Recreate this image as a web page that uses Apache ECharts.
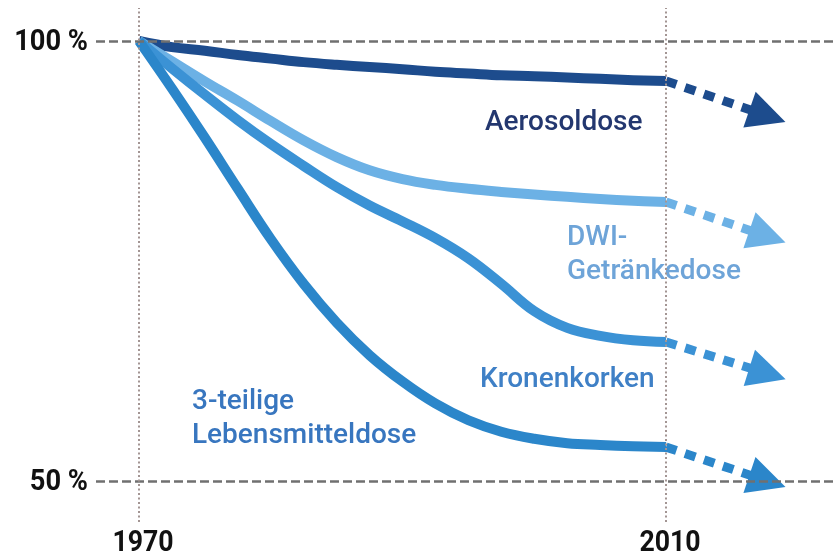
<!DOCTYPE html>
<html><head><meta charset="utf-8">
<script src="https://cdn.jsdelivr.net/npm/echarts@6/dist/echarts.min.js"></script>
<style>html,body{margin:0;padding:0;background:#fff}#c{width:836px;height:558px}</style>
</head><body><div id="c"></div>
<script>
// ---- data ----
const seriesNames = ['Aerosoldose', 'DWI-Getränkedose', 'Kronenkorken', '3-teilige Lebensmitteldose'];
const years = [1970, 1972.5, 1975, 1977.5, 1980, 1982.5, 1985, 1987.5, 1990, 1992.5, 1995, 1997.5, 2000, 2002.5, 2005, 2007.5, 2010];
const aeroValues = [100, 99.3, 98.9, 98.4, 98.0, 97.6, 97.3, 97.05, 96.8, 96.5, 96.3, 96.1, 96.0, 95.85, 95.7, 95.55, 95.45];
const dwiValues  = [100, 97.7, 95.4, 93.2, 90.9, 88.7, 86.8, 85.3, 84.3, 83.65, 83.2, 82.85, 82.55, 82.3, 82.05, 81.85, 81.7];
const kronValues = [100, 96.9, 93.9, 91.0, 88.3, 85.8, 83.4, 81.3, 79.5, 77.6, 75.3, 72.4, 69.3, 67.4, 66.5, 66.0, 65.8];
const dreiValues = [100, 94.6, 89.0, 83.2, 77.5, 72.4, 68.0, 64.3, 61.3, 58.8, 56.9, 55.6, 54.8, 54.3, 54.1, 53.95, 53.85];
const projYears = [2010, 2017.7];
const aeroProj = [95.45, 91.5];
const dwiProj = [81.7, 77.8];
const kronProj = [65.8, 62.2];
const dreiProj = [53.85, 50.0];
const yTickValues = [100, 50];
const yTickLabels = ['100 %', '50 %'];
const xTickValues = [1970, 2010];
const xTickLabels = ['1970', '2010'];

// ---- styles ----
const lineColors = ['#1d4c8d', '#6cb1e5', '#3b92d5', '#2b86ca'];
const textColors = ['#23376f', '#6ea4d8', '#3f80c6', '#3876bf'];

const pairs = (xs, ys) => xs.map((x, i) => [x, ys[i]]);
const chart = echarts.init(document.getElementById('c'), null, {renderer: 'canvas'});

const solid = [aeroValues, dwiValues, kronValues, dreiValues];
const proj = [aeroProj, dwiProj, kronProj, dreiProj];

const series = [{
  type: 'line', data: [], z: 1, silent: true,
  markLine: {
    silent: true, symbol: ['none', 'none'], label: {show: false},
    data: [
      ...yTickValues.map(v => ({yAxis: v, lineStyle: {color: '#707070', width: 2.6, type: [9, 4]}})),
      ...xTickValues.map(v => ({xAxis: v, lineStyle: {color: '#a39593', width: 2, type: [2, 2.5]}}))
    ],
    animation: false
  }
}];
solid.forEach((vals, i) => {
  series.push({
    name: seriesNames[i], type: 'line', z: 3, data: pairs(years, vals),
    smooth: 0.4, showSymbol: false, symbol: 'none',
    lineStyle: {color: lineColors[i], width: 10, cap: 'butt', join: 'round'}
  });
});
proj.forEach((p, i) => {
  series.push({
    type: 'lines', coordinateSystem: 'cartesian2d', z: 2,
    symbol: ['none', 'triangle'], symbolSize: [31, 38],
    lineStyle: {color: lineColors[i], width: 9, type: [11, 9], cap: 'butt', opacity: 1},
    data: [{coords: pairs(projYears, p)}]
  });
});

chart.setOption({
  animation: false,
  backgroundColor: '#ffffff',
  grid: {left: 96, right: 0, top: 8, bottom: 36},
  xAxis: {type: 'value', min: 1966.736, max: 2022.9, show: false},
  yAxis: {type: 'value', min: 45.34, max: 103.75, show: false},
  series: series
});

// ---- labels ----
const tickFont = {fontFamily: 'Roboto', fontSize: 29, fontWeight: 700, fill: '#111111'};
const graphics = [];
yTickValues.forEach((v, i) => {
  const p = chart.convertToPixel({gridIndex: 0}, [1970, v]);
  graphics.push({type: 'text', x: 88, y: p[1] + 2, scaleX: 0.94, style: Object.assign({text: yTickLabels[i], align: 'right', verticalAlign: 'middle'}, tickFont)});
});
xTickValues.forEach((v, i) => {
  const p = chart.convertToPixel({gridIndex: 0}, [v, 50]);
  graphics.push({type: 'text', x: p[0] + 4, y: 544, scaleX: 0.92, style: Object.assign({text: xTickLabels[i], align: 'center', verticalAlign: 'middle'}, tickFont)});
});
const seriesLabels = [
  {lines: ['Aerosoldose'], x: 485, y: 123, c: 0},
  {lines: ['DWI-', 'Getränkedose'], x: 567, y: 238, c: 1},
  {lines: ['Kronenkorken'], x: 480, y: 380, c: 2},
  {lines: ['3-teilige', 'Lebensmitteldose'], x: 192, y: 402, c: 3}
];
seriesLabels.forEach(l => {
  l.lines.forEach((t, j) => {
    graphics.push({type: 'text', x: l.x, y: l.y + j * 34, style: {text: t, align: 'left', verticalAlign: 'middle', fontFamily: 'Roboto', fontSize: 28, fontWeight: 500, fill: textColors[l.c]}});
  });
});
chart.setOption({graphic: graphics});
</script>
</body></html>
